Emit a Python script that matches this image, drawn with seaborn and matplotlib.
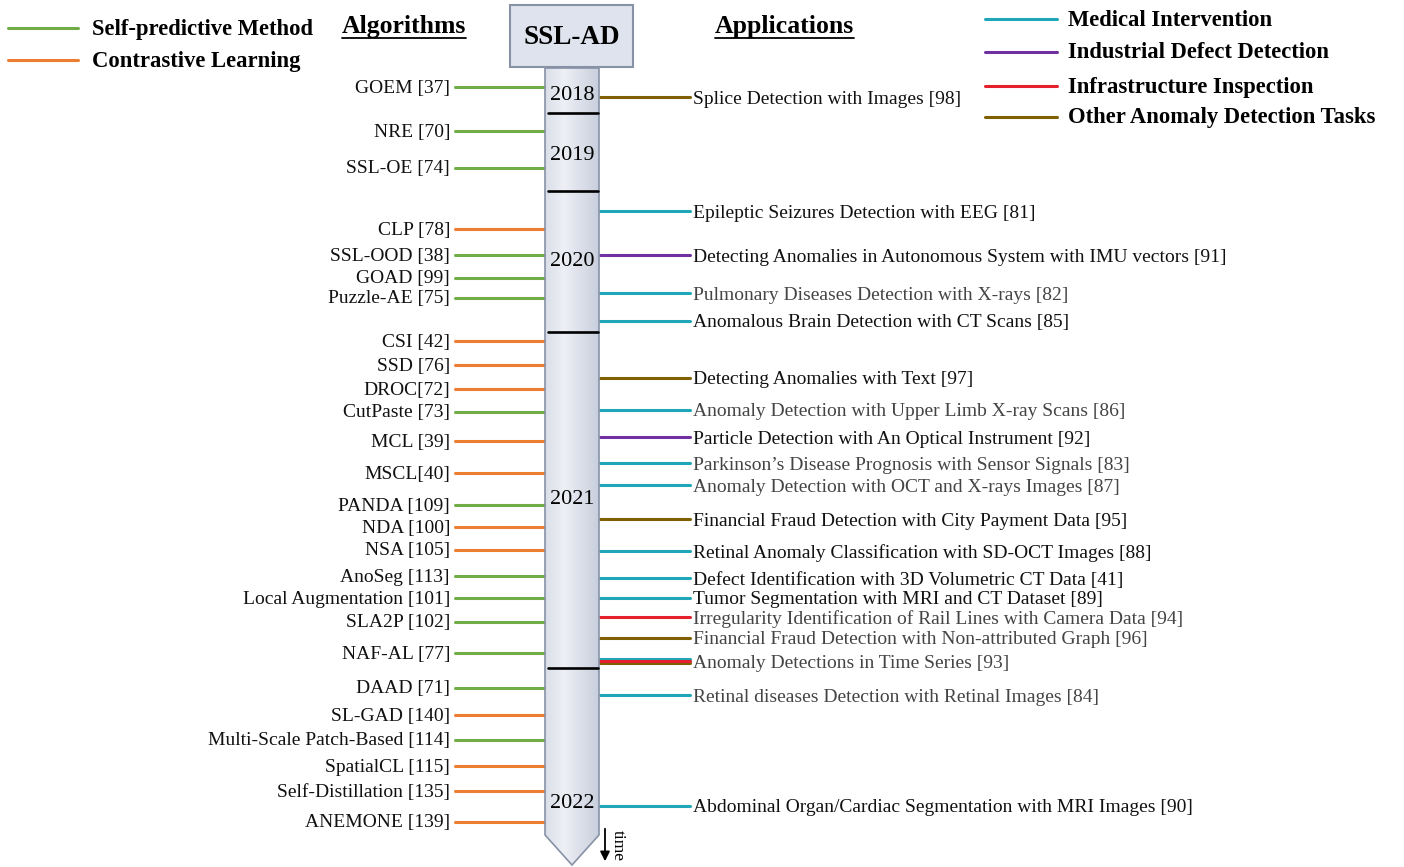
import numpy as np
import pandas as pd
import matplotlib
matplotlib.use('Agg')
import matplotlib.pyplot as plt
from matplotlib.patches import Polygon, Rectangle
import seaborn as sns

# left side: algorithms (label, vertical position on the timeline, kind)
algo_labels = ['GOEM [37]', 'NRE [70]', 'SSL-OE [74]', 'CLP [78]', 'SSL-OOD [38]', 'GOAD [99]',
               'Puzzle-AE [75]', 'CSI [42]', 'SSD [76]', 'DROC[72]', 'CutPaste [73]', 'MCL [39]',
               'MSCL[40]', 'PANDA [109]', 'NDA [100]', 'NSA [105]', 'AnoSeg [113]',
               'Local Augmentation [101]', 'SLA2P [102]', 'NAF-AL [77]', 'DAAD [71]', 'SL-GAD [140]',
               'Multi-Scale Patch-Based [114]', 'SpatialCL [115]', 'Self-Distillation [135]',
               'ANEMONE [139]']
algo_pos = [87, 131, 168, 229, 255, 278, 298, 341, 365, 389, 412, 441, 473, 505, 527, 550,
            576, 598, 622, 653, 688, 715, 740, 766, 791, 822]
algo_kind = ['sp', 'sp', 'sp', 'cl', 'sp', 'sp', 'sp', 'cl', 'cl', 'cl', 'sp', 'cl', 'cl',
             'sp', 'cl', 'cl', 'sp', 'sp', 'sp', 'sp', 'sp', 'cl', 'sp', 'cl', 'cl', 'cl']

# right side: applications
app_labels = ['Splice Detection with Images [98]',
              'Epileptic Seizures Detection with EEG [81]',
              'Detecting Anomalies in Autonomous System with IMU vectors [91]',
              'Pulmonary Diseases Detection with X-rays [82]',
              'Anomalous Brain Detection with CT Scans [85]',
              'Detecting Anomalies with Text [97]',
              'Anomaly Detection with Upper Limb X-ray Scans [86]',
              'Particle Detection with An Optical Instrument [92]',
              'Parkinson\u2019s Disease Prognosis with Sensor Signals [83]',
              'Anomaly Detection with OCT and X-rays Images [87]',
              'Financial Fraud Detection with City Payment Data [95]',
              'Retinal Anomaly Classification with SD-OCT Images [88]',
              'Defect Identification with 3D Volumetric CT Data [41]',
              'Tumor Segmentation with MRI and CT Dataset [89]',
              'Irregularity Identification of Rail Lines with Camera Data [94]',
              'Financial Fraud Detection with Non-attributed Graph [96]',
              'Anomaly Detections in Time Series [93]',
              'Retinal diseases Detection with Retinal Images [84]',
              'Abdominal Organ/Cardiac Segmentation with MRI Images [90]']
app_pos = [97, 211, 255, 293, 321, 378, 410, 437, 463, 485, 519, 551, 578, 598, 617, 638, 661,
           695, 806]
app_kind = [['oth'], ['med'], ['ind'], ['med'], ['med'], ['oth'], ['med'], ['ind'], ['med'],
            ['med'], ['oth'], ['med'], ['med'], ['med'], ['inf'], ['oth'],
            ['med', 'inf', 'oth'], ['med'], ['med']]
app_gray = [False, False, False, True, False, False, True, False, True, True, False, False,
            False, False, True, True, True, True, False]

years = ['2018', '2019', '2020', '2021', '2022']
year_pos = [94, 153, 260, 497, 802]
year_breaks = [113, 191, 332, 668]

kind_names = {'sp': 'Self-predictive Method', 'cl': 'Contrastive Learning',
              'med': 'Medical Intervention', 'ind': 'Industrial Defect Detection',
              'inf': 'Infrastructure Inspection', 'oth': 'Other Anomaly Detection Tasks'}
palette = {'sp': '#70ad47', 'cl': '#ed7d31', 'med': '#1fa7b8', 'ind': '#7030a0',
           'inf': '#e3202c', 'oth': '#7f6000'}

sns.set_theme(style='white')
plt.rcParams['font.family'] = ['Liberation Serif', 'DejaVu Serif']
plt.rcParams['text.color'] = 'black'

fig = plt.figure(figsize=(14.04, 8.67), dpi=100)
ax = fig.add_axes([0, 0, 1, 1])
ax.set_xlim(0, 1404)
ax.set_ylim(867, 0)
ax.axis('off')

# timeline bar with arrow tip
bx0, bx1, top, bot, tip = 545, 599, 68, 835, 865
grad = np.linspace(0, 1, 200)
grad = 1 - 0.6 * np.abs(grad - 0.35) / 0.65
img = np.tile(grad, (10, 1))
cmap = matplotlib.colors.LinearSegmentedColormap.from_list('bar', ['#c8cedc', '#eef0f6'])
im = ax.imshow(img, extent=[bx0, bx1, tip, top], cmap=cmap, aspect='auto', zorder=1)
bar = Polygon([[bx0, top], [bx1, top], [bx1, bot], [(bx0 + bx1) / 2, tip], [bx0, bot]],
              closed=True, facecolor='none', edgecolor='#8892a6', lw=1.2, zorder=3)
ax.add_patch(bar)
im.set_clip_path(bar)

# title box
ax.add_patch(Rectangle((510, 5), 123, 62, facecolor='#dfe3ee', edgecolor='#8892a6', lw=1.5, zorder=3))
ax.text(571.5, 38, 'SSL-AD', ha='center', va='center', fontsize=19.5, fontweight='bold', zorder=4)

for y in year_breaks:
    ax.plot([548, 598], [y, y], color='black', lw=1.9, zorder=4)
for yr, y in zip(years, year_pos):
    ax.text(572, y + 2, yr, ha='center', va='center', fontsize=16, zorder=4)

# connector segments via seaborn
rows = []
uid = 0
for lab, y, k in zip(algo_labels, algo_pos, algo_kind):
    rows.append((455, y, uid, k))
    rows.append((544, y, uid, k))
    uid += 1
for lab, y, ks in zip(app_labels, app_pos, app_kind):
    n = len(ks)
    for i, k in enumerate(ks):
        yy = y + (i - (n - 1) / 2) * 2.2
        rows.append((600, yy, uid, k))
        rows.append((690, yy, uid, k))
        uid += 1
seg = pd.DataFrame(rows, columns=['x', 'y', 'unit', 'kind'])
sns.lineplot(data=seg, x='x', y='y', units='unit', hue='kind', palette=palette,
             estimator=None, sort=False, lw=2.2, legend=False, ax=ax, zorder=2)
ax.set_xlabel('')
ax.set_ylabel('')

for lab, y in zip(algo_labels, algo_pos):
    ax.text(450, y + 1, lab, ha='right', va='center', fontsize=14, color='#111111')
for lab, y, g in zip(app_labels, app_pos, app_gray):
    ax.text(693, y + 2, lab, ha='left', va='center', fontsize=14,
            color='#444444' if g else '#111111')

# headers
for txt, x0 in [('Algorithms', 342), ('Applications', 715)]:
    ax.text(x0, 26, txt, ha='left', va='center', fontsize=18.5, fontweight='bold')
fig.canvas.draw()
r = fig.canvas.get_renderer()
inv = ax.transData.inverted()
for t in ax.texts:
    if t.get_text() in ('Algorithms', 'Applications'):
        bb = t.get_window_extent(r)
        (xa, _), (xb, _) = inv.transform([[bb.x0, bb.y0], [bb.x1, bb.y0]])
        ax.plot([xa, xb], [38, 38], color='black', lw=1.3)

# legends
for i, k in enumerate(['sp', 'cl']):
    y = [28, 60][i]
    ax.plot([8, 78], [y, y], color=palette[k], lw=2.2)
    ax.text(92, y + 1, kind_names[k], ha='left', va='center', fontsize=16.3, fontweight='bold')
for i, k in enumerate(['med', 'ind', 'inf', 'oth']):
    y = [19, 52, 86, 117][i]
    ax.plot([985, 1057], [y, y], color=palette[k], lw=2.2)
    ax.text(1068, y + 1, kind_names[k], ha='left', va='center', fontsize=16.3, fontweight='bold')

# time arrow
ax.annotate('', xy=(605, 864), xytext=(605, 826),
            arrowprops=dict(arrowstyle='-|>', color='black', lw=1.3, mutation_scale=14))
ax.text(618, 845, 'time', rotation=-90, ha='center', va='center', fontsize=12.5)

fig.savefig('out.png', dpi=100)
